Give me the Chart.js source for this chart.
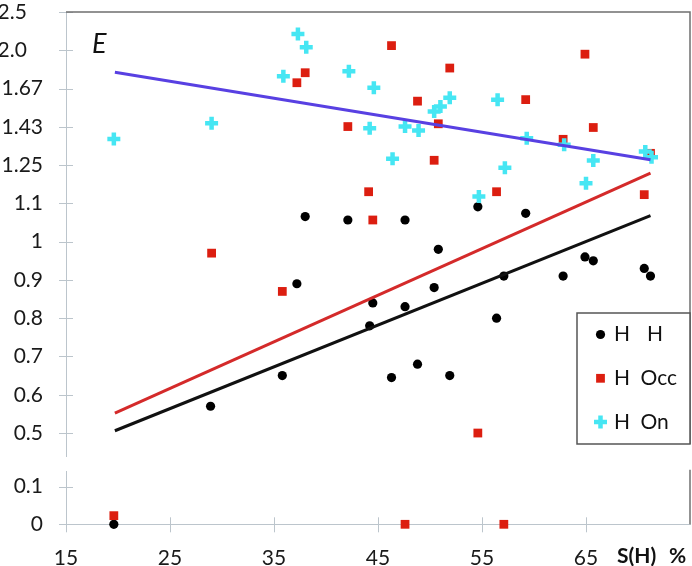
<!DOCTYPE html>
<html>
<head>
<meta charset="utf-8">
<script src="https://cdn.jsdelivr.net/npm/chart.js"></script>
<style>
  body { margin: 0; background: #fff; overflow: hidden; }
  #wrap { position: relative; width: 692px; height: 566px; }
  canvas { position: absolute; left: 0; }
  #mainChart { top: 0; }
  #lowChart { top: 460px; }
</style>
</head>
<body>
<div id="wrap">
  <canvas id="mainChart" width="692" height="468"></canvas>
  <canvas id="lowChart" width="692" height="106"></canvas>
</div>
<script>
// S(H) % and E for each series
const hhX = [19.6, 28.9, 35.8, 37.2, 38.0, 42.1, 44.2, 44.5, 46.3, 47.6, 47.6, 48.8, 50.4, 50.8, 51.9, 54.6, 56.4, 57.1, 59.2, 62.8, 64.9, 65.7, 70.6, 71.2];
const hhE = [0, 0.57, 0.65, 0.89, 1.07, 1.06, 0.78, 0.84, 0.645, 1.06, 0.83, 0.68, 0.88, 0.98, 0.65, 1.10, 0.80, 0.91, 1.08, 0.91, 0.96, 0.95, 0.93, 0.91];

const occX = [19.6, 29.0, 35.8, 37.2, 38.0, 42.1, 44.1, 44.5, 46.3, 47.6, 48.8, 50.4, 50.8, 51.9, 54.6, 56.4, 57.1, 59.2, 62.8, 64.9, 65.7, 70.6, 71.2];
const occE = [0.023, 0.97, 0.87, 1.71, 1.79, 1.43, 1.15, 1.06, 2.05, 0, 1.58, 1.27, 1.445, 1.83, 0.50, 1.15, 0, 1.59, 1.365, 1.96, 1.425, 1.14, 1.30];

const onX = [19.6, 29.0, 35.9, 37.3, 38.1, 42.2, 44.2, 44.6, 46.4, 47.6, 48.9, 50.4, 51.0, 51.9, 54.7, 56.5, 57.2, 59.3, 62.9, 65.0, 65.7, 70.7, 71.3];
const onE = [1.367, 1.448, 1.761, 2.187, 2.032, 1.802, 1.421, 1.672, 1.277, 1.430, 1.409, 1.515, 1.546, 1.602, 1.134, 1.589, 1.239, 1.370, 1.339, 1.180, 1.269, 1.308, 1.283];

// trend lines (end points)
const fitX = [19.7, 71.2];
const hhFit = [0.506, 1.073];
const occFit = [0.552, 1.218];
const onFit = [1.794, 1.272];

const yTickValues = [0.5, 0.6, 0.7, 0.8, 0.9, 1, 1.111, 1.25, 1.429, 1.667, 2, 2.5];
const yTickLabels = ['0.5', '0.6', '0.7', '0.8', '0.9', '1', '1.1', '1.25', '1.43', '1.67', '2.0   ', '2.5   '];
const lowTickValues = [0, 0.1];
const lowTickLabels = ['0', '0.1'];
const xTickValues = [15, 25, 35, 45, 55, 65];
const xTickLabels = ['15', '25', '35', '45', '55', '65'];

// the upper axis is linear up to 1, then runs as 1/E
function toAxis(e) { return e <= 1 ? e : 2 - 1 / e; }

const CUT = 0.3;
const AXIS_COL = '#bcc5cc';
const FRAME_COL = '#6f6f6f';
const FONT = "Lato, 'Open Sans', sans-serif";

Chart.defaults.font.family = FONT;
Chart.defaults.font.size = 21;
Chart.defaults.color = '#1a1a1a';

const series = [
    { label: ['H', 'H'], gap: 70, xs: hhX, es: hhE, style: 'circle', r: 4.6, color: '#000000', order: 3 },
    { label: ['H', 'Occ'], gap: 63.5, xs: occX, es: occE, style: 'rect', r: 6.2, color: '#dc1e10', order: 2 },
    { label: ['H', 'On'], gap: 63.5, xs: onX, es: onE, style: 'cross', r: 6.5, color: '#46e6f3', order: 1 }
];
const fits = [
    { ys: hhFit, color: '#111111' },
    { ys: occFit, color: '#d42a2a' },
    { ys: onFit, color: '#5840e2' }
];

function pointSet(s, upper) {
    const pts = [];
    s.xs.forEach((x, i) => {
        const e = s.es[i];
        if (upper && e >= CUT) pts.push({ x: x, y: toAxis(e) });
        if (!upper && e < CUT) pts.push({ x: x, y: e });
    });
    const ds = {
        data: pts, showLine: false, clip: false, order: s.order,
        pointStyle: s.style, pointRadius: s.r, pointHoverRadius: s.r
    };
    if (s.style === 'cross') {
        ds.pointBorderColor = s.color; ds.pointBorderWidth = 4.5; ds.pointBackgroundColor = s.color;
    } else {
        ds.pointBackgroundColor = s.color; ds.pointBorderWidth = 0; ds.pointBorderColor = s.color;
    }
    return ds;
}

function drawMarker(ctx, s, x, y) {
    ctx.save();
    if (s.style === 'circle') {
        ctx.fillStyle = s.color;
        ctx.beginPath(); ctx.arc(x, y, s.r, 0, Math.PI * 2); ctx.fill();
    } else if (s.style === 'rect') {
        const h = s.r * Math.SQRT1_2;
        ctx.fillStyle = s.color;
        ctx.fillRect(x - h, y - h, 2 * h, 2 * h);
    } else {
        ctx.strokeStyle = s.color; ctx.lineWidth = 4.5;
        ctx.beginPath();
        ctx.moveTo(x - s.r, y); ctx.lineTo(x + s.r, y);
        ctx.moveTo(x, y - s.r); ctx.lineTo(x, y + s.r);
        ctx.stroke();
    }
    ctx.restore();
}

// ticks crossing the axis lines
const crossTicks = {
    id: 'crossTicks',
    afterDraw(chart) {
        const { ctx, chartArea, scales } = chart;
        ctx.save();
        ctx.strokeStyle = AXIS_COL; ctx.lineWidth = 1;
        ctx.beginPath();
        scales.y.ticks.forEach(t => {
            const p = Math.round(scales.y.getPixelForValue(t.value)) + 0.5;
            ctx.moveTo(chartArea.left - 7, p); ctx.lineTo(chartArea.left + 7, p);
        });
        if (scales.x.options.display) {
            scales.x.ticks.forEach(t => {
                const p = Math.round(scales.x.getPixelForValue(t.value)) + 0.5;
                ctx.moveTo(p, chartArea.bottom - 7); ctx.lineTo(p, chartArea.bottom + 8);
            });
        }
        ctx.stroke();
        ctx.restore();
    }
};

const LEG_W = 113, LEG_H = 131, LEG_TOP = 301;

const upperDecor = {
    id: 'upperDecor',
    afterDraw(chart) {
        const { ctx, chartArea } = chart;
        const x0 = chartArea.right - LEG_W, y0 = chartArea.top + LEG_TOP;
        ctx.save();
        // frame
        ctx.strokeStyle = FRAME_COL; ctx.lineWidth = 1.5;
        ctx.beginPath();
        ctx.moveTo(chartArea.left, chartArea.top);
        ctx.lineTo(chartArea.right, chartArea.top);
        ctx.lineTo(chartArea.right, y0 + LEG_H);
        ctx.stroke();
        // legend
        ctx.fillStyle = '#fff';
        ctx.fillRect(x0, y0, LEG_W, LEG_H);
        ctx.strokeStyle = '#555'; ctx.lineWidth = 1.5;
        ctx.strokeRect(x0, y0, LEG_W, LEG_H);
        series.forEach((s, i) => {
            const y = y0 + 21.5 + i * 43.8;
            drawMarker(ctx, s, x0 + 23.5, y);
            ctx.fillStyle = '#111';
            ctx.font = '21px ' + FONT;
            ctx.textBaseline = 'middle';
            ctx.textAlign = 'left';
            ctx.fillText(s.label[0], x0 + 37, y);
            ctx.fillText(s.label[1], x0 + s.gap, y);
        });
        // axis symbol
        ctx.fillStyle = '#111';
        ctx.font = 'italic 27px ' + FONT;
        ctx.textBaseline = 'alphabetic';
        ctx.fillText('E', chartArea.left + 26, chartArea.top + 41);
        ctx.restore();
    }
};

const lowerDecor = {
    id: 'lowerDecor',
    afterDraw(chart) {
        const { ctx, chartArea } = chart;
        ctx.save();
        ctx.strokeStyle = FRAME_COL; ctx.lineWidth = 1.5;
        ctx.beginPath();
        ctx.moveTo(chartArea.right, chartArea.top - 2);
        ctx.lineTo(chartArea.right, chartArea.bottom);
        ctx.stroke();
        ctx.fillStyle = '#111';
        ctx.font = 'bold 21px ' + FONT;
        ctx.textBaseline = 'middle';
        ctx.fillText('S(H)', 617, 96);
        ctx.fillText('%', 669, 96);
        ctx.restore();
    }
};

function yScale(min, max, values, labels) {
    return {
        type: 'linear', min: min, max: max,
        afterFit(scale) { scale.width = 66; },
        afterBuildTicks(scale) { scale.ticks = values.map(v => ({ value: v })); },
        grid: { display: true, drawOnChartArea: false, drawTicks: true, tickLength: 22, tickColor: 'rgba(0,0,0,0)' },
        border: { display: true, color: AXIS_COL, width: 1 },
        ticks: { padding: 1, font: { size: 21, lineHeight: 1 }, callback: (v, i) => labels[i] }
    };
}

const fitSets = fits.map(f => ({
    data: fitX.map((x, i) => ({ x: x, y: toAxis(f.ys[i]) })),
    showLine: true, borderColor: f.color, borderWidth: 3, pointRadius: 0, clip: false, order: 0
}));

new Chart(document.getElementById('mainChart'), {
    type: 'scatter',
    data: { datasets: series.map(s => pointSet(s, true)).concat(fitSets) },
    options: {
        responsive: false, animation: false, events: [],
        layout: { autoPadding: false, padding: { top: 12, right: 2, bottom: 12, left: 0 } },
        plugins: { legend: { display: false }, tooltip: { enabled: false } },
        scales: {
            x: { type: 'linear', min: 15, max: 75, display: false },
            y: yScale(0.44, 1.6, yTickValues.map(toAxis), yTickLabels)
        }
    },
    plugins: [crossTicks, upperDecor]
});

new Chart(document.getElementById('lowChart'), {
    type: 'scatter',
    data: { datasets: series.map(s => pointSet(s, false)) },
    options: {
        responsive: false, animation: false, events: [],
        layout: { autoPadding: false, padding: { top: 11.7, right: 2, bottom: 0, left: 0 } },
        plugins: { legend: { display: false }, tooltip: { enabled: false } },
        scales: {
            x: {
                type: 'linear', min: 15, max: 75,
                afterFit(scale) { scale.height = 41.7; },
                afterBuildTicks(scale) { scale.ticks = xTickValues.map(v => ({ value: v })); },
                grid: { display: true, drawOnChartArea: false, drawTicks: true, tickLength: 22, tickColor: 'rgba(0,0,0,0)' },
                border: { display: true, color: AXIS_COL, width: 1 },
                ticks: { padding: 1, maxRotation: 0, font: { size: 21, lineHeight: 1 }, callback: (v, i) => xTickLabels[i] }
            },
            y: yScale(0, 0.14, lowTickValues, lowTickLabels)
        }
    },
    plugins: [crossTicks, lowerDecor]
});
</script>
</body>
</html>
